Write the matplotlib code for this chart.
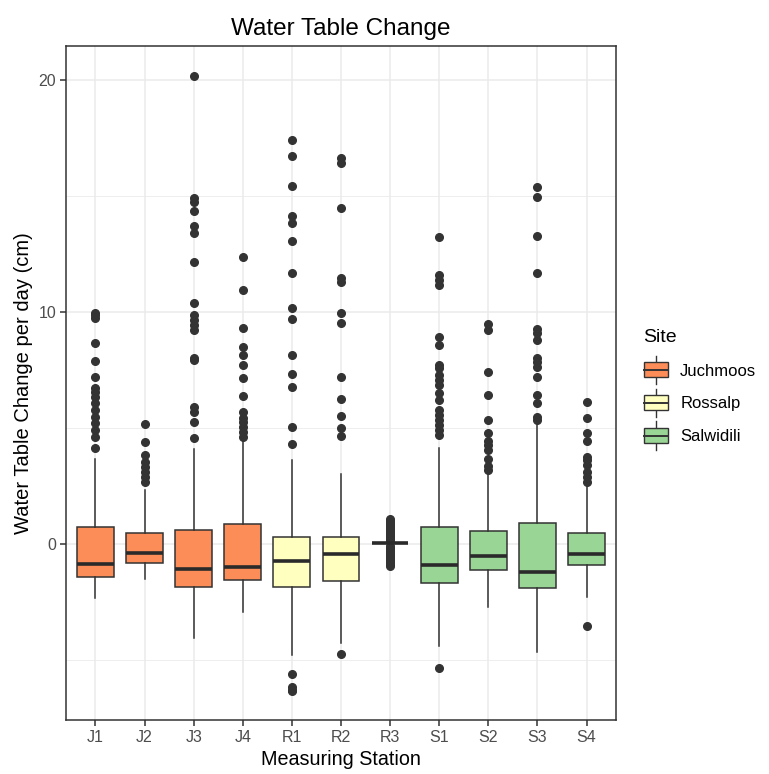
import matplotlib
matplotlib.use("Agg")
import matplotlib.pyplot as plt
from matplotlib.legend_handler import HandlerBase
from matplotlib.patches import Rectangle, Patch
from matplotlib.lines import Line2D
from matplotlib.ticker import MultipleLocator

plt.rcParams['font.family'] = ['Liberation Sans', 'DejaVu Sans']

# stations and their site
stations = ["J1", "J2", "J3", "J4", "R1", "R2", "R3", "S1", "S2", "S3", "S4"]
site_of = ["Juchmoos"] * 4 + ["Rossalp"] * 3 + ["Salwidili"] * 4
sites = ["Juchmoos", "Rossalp", "Salwidili"]
site_colors = {"Juchmoos": "#FC8D59", "Rossalp": "#FFFFBF", "Salwidili": "#99D594"}

# box statistics (cm/day)
q1 = [-1.42, -0.82, -1.84, -1.55, -1.84, -1.60, 0.05, -1.67, -1.12, -1.91, -0.89]
med = [-0.85, -0.37, -1.09, -0.98, -0.73, -0.43, 0.05, -0.91, -0.50, -1.19, -0.42]
q3 = [0.75, 0.49, 0.60, 0.85, 0.32, 0.32, 0.05, 0.75, 0.56, 0.92, 0.49]
whis_lo = [-2.34, -1.51, -4.07, -2.95, -4.78, -4.25, 0.05, -4.38, -2.74, -4.67, -2.27]
whis_hi = [3.65, 2.33, 4.09, 4.48, 3.62, 3.02, 0.05, 4.15, 3.05, 5.13, 2.59]

# outliers
fliers = [
    [4.15, 4.63, 4.91, 5.20, 5.49, 5.78, 6.06, 6.35, 6.57, 6.71, 7.21, 7.90,
     8.65, 9.73, 9.85, 9.94],
    [2.66, 2.90, 3.12, 3.33, 3.55, 3.84, 4.38, 5.16],
    [4.55, 5.27, 5.70, 5.92, 7.93, 8.00, 9.22, 9.44, 9.66, 9.87, 10.37,
     12.17, 13.39, 13.70, 14.35, 14.75, 14.90, 20.17],
    [4.63, 4.84, 5.06, 5.27, 5.42, 5.70, 6.38, 7.14, 7.72, 8.15, 8.50, 9.30,
     10.95, 12.38],
    [-5.60, -6.15, -6.29, -6.36, 4.30, 5.06, 6.78, 7.31, 8.15, 9.70, 10.19,
     11.67, 13.05, 13.82, 14.15, 15.43, 16.74, 17.41],
    [-4.76, 4.67, 4.99, 5.52, 6.24, 7.18, 9.51, 9.94, 11.31, 11.45, 14.47,
     16.44, 16.62],
    [-0.93, -0.85, -0.78, -0.70, -0.62, -0.55, -0.47, -0.40, -0.32, -0.25,
     -0.17, -0.10, 0.12, 0.20, 0.28, 0.35, 0.43, 0.50, 0.58, 0.66, 0.74,
     0.82, 0.90, 0.98, 1.06],
    [-5.36, 4.70, 4.91, 5.13, 5.34, 5.56, 5.78, 6.21, 6.49, 6.85, 7.07, 7.28,
     7.57, 7.72, 8.58, 8.94, 11.16, 11.38, 11.59, 13.22],
    [3.19, 3.36, 3.66, 4.05, 4.27, 4.44, 4.80, 5.34, 6.42, 7.43, 9.22, 9.48],
    [5.34, 5.49, 6.06, 6.42, 7.21, 7.64, 7.86, 8.00, 8.79, 9.08, 9.25,
     11.67, 13.28, 14.94, 15.37],
    [-3.52, 2.69, 2.90, 3.12, 3.41, 3.62, 3.76, 4.44, 4.80, 5.45, 6.11],
]

line_col = "#333333"

fig = plt.figure(figsize=(7.69, 7.74), dpi=100)
ax = fig.add_axes([0.0858, 0.0698, 0.7152, 0.8708])

stats = []
for i, name in enumerate(stations):
    stats.append(dict(label=name, q1=q1[i], med=med[i], q3=q3[i],
                      whislo=whis_lo[i], whishi=whis_hi[i], fliers=fliers[i]))

pos = list(range(1, len(stations) + 1))
bp = ax.bxp(stats, positions=pos, widths=0.75, showcaps=False, patch_artist=True,
            boxprops=dict(edgecolor=line_col, linewidth=1.1),
            whiskerprops=dict(color=line_col, linewidth=1.1),
            medianprops=dict(color="#2a2a2a", linewidth=2.6, solid_capstyle="butt"),
            flierprops=dict(marker="o", markerfacecolor=line_col, markeredgecolor=line_col,
                            markersize=5.5, linestyle="none"),
            zorder=3)
for box, s in zip(bp["boxes"], site_of):
    box.set_facecolor(site_colors[s])

ax.set_xlim(0.4, len(stations) + 0.6)
ax.set_ylim(-7.59, 21.47)
ax.yaxis.set_major_locator(MultipleLocator(10))
ax.yaxis.set_minor_locator(MultipleLocator(5))
ax.set_xticks(pos)
ax.set_xticklabels(stations)

ax.grid(True, which="major", color="#ebebeb", linewidth=1.1, zorder=0)
ax.grid(True, which="minor", axis="y", color="#ebebeb", linewidth=0.6, zorder=0)
ax.set_axisbelow(True)
for sp in ax.spines.values():
    sp.set_color(line_col)
    sp.set_linewidth(1.1)
ax.tick_params(axis="both", which="major", colors=line_col, length=4, width=1.1,
               labelsize=11.5, labelcolor="#4d4d4d", pad=3)
ax.tick_params(axis="y", which="minor", length=0)

ax.set_title("Water Table Change", fontsize=17.5, color="black", pad=8)
ax.set_xlabel("Measuring Station", fontsize=14.2, labelpad=4)
ax.set_ylabel("Water Table Change per day (cm)", fontsize=14.5, labelpad=4)


class BoxKey(HandlerBase):
    # small boxplot glyph for the legend keys
    def create_artists(self, legend, orig_handle, xdescent, ydescent,
                       width, height, fontsize, trans):
        x0, y0 = -xdescent, -ydescent
        whisk = Line2D([x0 + width / 2] * 2, [y0 - 0.45 * height, y0 + 1.45 * height],
                       color=line_col, linewidth=1.0, transform=trans)
        rect = Rectangle((x0, y0), width, height, facecolor=orig_handle.get_facecolor(),
                         edgecolor=line_col, linewidth=1.0, transform=trans)
        mid = Line2D([x0, x0 + width], [y0 + height / 2] * 2, color=line_col,
                     linewidth=1.4, transform=trans)
        return [whisk, rect, mid]


handles = [Patch(facecolor=site_colors[s]) for s in sites]
leg = fig.legend(handles, sites, handler_map={Patch: BoxKey()},
                 loc="upper left", bbox_to_anchor=(0.826, 0.586), frameon=False,
                 title="Site", title_fontsize=14, fontsize=12, borderpad=0,
                 handlelength=1.45, handleheight=1.0, labelspacing=1.0,
                 handletextpad=0.75, alignment="left")

fig.savefig("out.png", dpi=100)
